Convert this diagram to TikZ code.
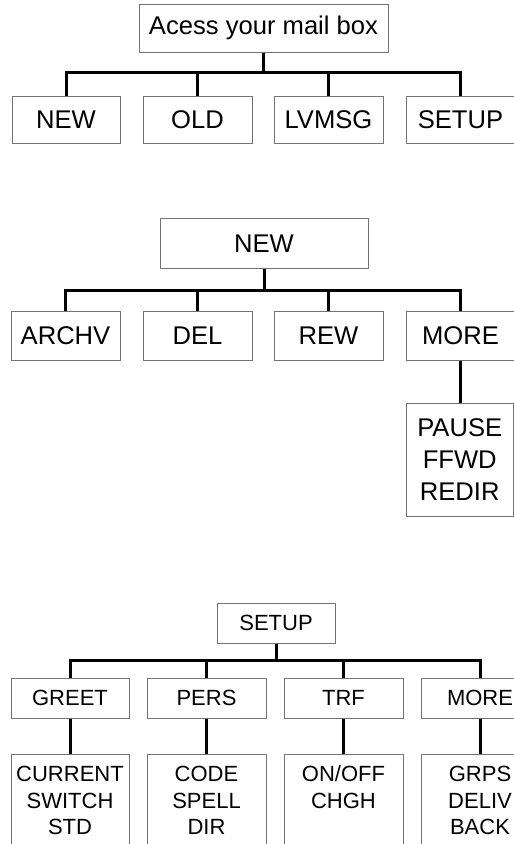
\documentclass[tikz,border=0pt]{standalone}
\usepackage{fontspec}
\setmainfont{Liberation Sans}

\tikzset{
  box/.style={draw=black!55,line width=1pt,inner sep=0pt,align=center},
  bigtxt/.style={font=\fontsize{25.6}{31.7}\selectfont},
  smalltxt/.style={font=\fontsize{22}{26.7}\selectfont},
  link/.style={line width=3pt},
}

\begin{document}
\begin{tikzpicture}[x=1pt,y=-1pt]

  \useasboundingbox (0,0) rectangle (514,844);
  \clip (0,0) rectangle (514,844);

  % main menu
  \node[box,bigtxt,minimum width=249pt,minimum height=48pt] (acc) at (263.5,28) {Acess your mail box};
  \node[box,bigtxt,minimum width=108pt,minimum height=47pt] (m-new) at (66,119.5) {NEW};
  \node[box,bigtxt,minimum width=109pt,minimum height=47pt] (m-old) at (197.5,119.5) {OLD};
  \node[box,bigtxt,minimum width=109pt,minimum height=47pt] (m-lvmsg) at (328.5,119.5) {LVMSG};
  \node[box,bigtxt,minimum width=109pt,minimum height=47pt] (m-setup) at (460.5,119.5) {SETUP};

  \draw[link] (acc.south) -- ++(0,20) -| (m-new.north);
  \draw[link] (acc.south) -- ++(0,20) -| (m-old.north);
  \draw[link] (acc.south) -- ++(0,20) -| (m-lvmsg.north);
  \draw[link] (acc.south) -- ++(0,20) -| (m-setup.north);

  % NEW menu
  \node[box,bigtxt,minimum width=208pt,minimum height=50pt] (n-top) at (264,243.5) {NEW};
  \node[box,bigtxt,minimum width=109pt,minimum height=49pt] (n-archv) at (65.5,335.5) {ARCHV};
  \node[box,bigtxt,minimum width=109pt,minimum height=49pt] (n-del) at (197.5,335.5) {DEL};
  \node[box,bigtxt,minimum width=109pt,minimum height=49pt] (n-rew) at (328.5,335.5) {REW};
  \node[box,bigtxt,minimum width=109pt,minimum height=49pt] (n-more) at (460.5,335.5) {MORE};
  \node[box,bigtxt,minimum width=107.5pt,minimum height=113pt] (n-pause) at (459.75,459.5) {PAUSE\\FFWD\\REDIR};

  \draw[link] (n-top.south) -- ++(0,21) -| (n-archv.north);
  \draw[link] (n-top.south) -- ++(0,21) -| (n-del.north);
  \draw[link] (n-top.south) -- ++(0,21) -| (n-rew.north);
  \draw[link] (n-top.south) -- ++(0,21) -| (n-more.north);
  \draw[link] (n-more.south) -- (n-more.south |- n-pause.north);

  % SETUP menu
  \node[box,smalltxt,minimum width=118pt,minimum height=40pt] (s-top) at (276,623) {SETUP};
  \node[box,smalltxt,minimum width=118pt,minimum height=40pt] (s-greet) at (70,698) {GREET};
  \node[box,smalltxt,minimum width=119pt,minimum height=40pt] (s-pers) at (206.5,698) {PERS};
  \node[box,smalltxt,minimum width=119pt,minimum height=40pt] (s-trf) at (343.5,698) {TRF};
  \node[box,smalltxt,minimum width=118pt,minimum height=40pt] (s-more) at (480,698) {MORE};

  \draw[link] (s-top.south) -- ++(0,17) -| (s-greet.north);
  \draw[link] (s-top.south) -- ++(0,17) -| (s-pers.north);
  \draw[link] (s-top.south) -- ++(0,17) -| (s-trf.north);
  \draw[link] (s-top.south) -- ++(0,17) -| (s-more.north);

  % SETUP sub-entries (boxes run off the bottom)
  \node[box,smalltxt,minimum width=118pt,anchor=north,inner ysep=11.5pt,text depth=100pt] (s-cur) at (70,754) {CURRENT\\SWITCH\\STD};
  \node[box,smalltxt,minimum width=119pt,anchor=north,inner ysep=11.5pt,text depth=100pt] (s-code) at (206.5,754) {CODE\\SPELL\\DIR};
  \node[box,smalltxt,minimum width=119pt,anchor=north,inner ysep=11.5pt,text depth=100pt] (s-onoff) at (343.5,754) {ON/OFF\\CHGH};
  \node[box,smalltxt,minimum width=118pt,anchor=north,inner ysep=11.5pt,text depth=100pt] (s-grps) at (480,754) {GRPS\\DELIV\\BACK};

  \draw[link] (s-greet) -- (s-cur);
  \draw[link] (s-pers) -- (s-code);
  \draw[link] (s-trf) -- (s-onoff);
  \draw[link] (s-more) -- (s-grps);

\end{tikzpicture}
\end{document}
